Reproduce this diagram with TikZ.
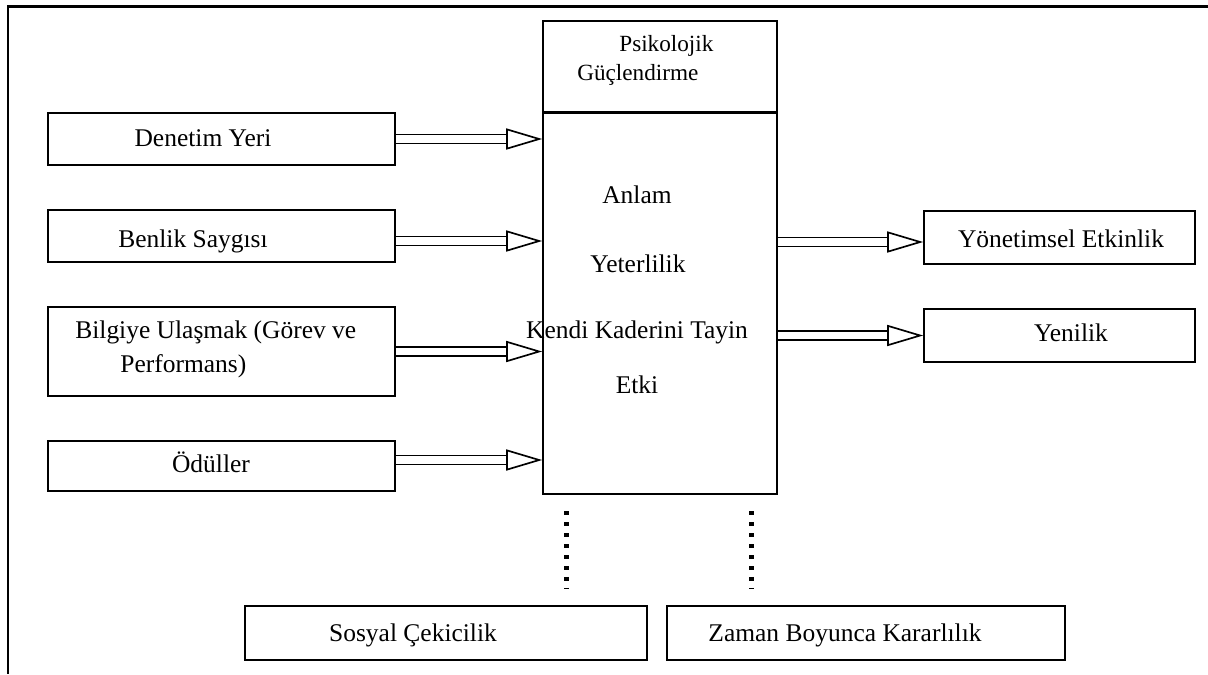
\documentclass[tikz,border=0pt]{standalone}
\usepackage{fontspec}
\setmainfont{Liberation Serif}
\usetikzlibrary{arrows.meta}

\begin{document}
\begin{tikzpicture}[x=0.02cm,y=-0.02cm,
    kutu/.style={draw,line width=0.95pt,inner sep=0pt},
    yazi/.style={font=\fontsize{14.5}{17}\selectfont,inner sep=0pt,anchor=base},
    okcift/.style={double,double distance=4pt,line width=0.95pt,-{Triangle[open,length=0.72cm,width=0.42cm]}},
    nokta/.style={line width=0.1cm,dash pattern=on 0.08cm off 0.14cm}]
  \useasboundingbox (0,0) rectangle (1208,674);

  % cerceve
  \draw[line width=0.06cm] (7,6) -- (1208,6);
  \draw[line width=0.045cm] (8,6) -- (8,674);

  % sol kutular
  \node[kutu,minimum width=6.94cm,minimum height=1.04cm] (denetim) at (221.5,139) {};
  \node[kutu,minimum width=6.94cm,minimum height=1.04cm] (benlik) at (221.5,236) {};
  \node[kutu,minimum width=6.94cm,minimum height=1.78cm] (bilgi) at (221.5,351.5) {};
  \node[kutu,minimum width=6.94cm,minimum height=1.00cm] (odul) at (221.5,466) {};

  % orta kutu
  \node[kutu,minimum width=4.68cm,minimum height=1.84cm] (ust) at (660,67) {};
  \node[kutu,minimum width=4.68cm,minimum height=7.62cm] (merkez) at (660,303.5) {};
  \draw[line width=0.055cm] (merkez.north west) -- (merkez.north east);

  % sag kutular
  \node[kutu,minimum width=5.42cm,minimum height=1.06cm] (yonetim) at (1059.5,237.5) {};
  \node[kutu,minimum width=5.42cm,minimum height=1.06cm] (yenilik) at (1059.5,335.5) {};

  % alt kutular
  \node[kutu,minimum width=8.04cm,minimum height=1.08cm] (sosyal) at (446,633) {};
  \node[kutu,minimum width=7.96cm,minimum height=1.08cm] (zaman) at (866,633) {};

  % yazilar
  \node[yazi,anchor=base west,font=\fontsize{13.2}{16}\selectfont] (psiT) at (619,51) {Psikolojik};
  \node[yazi,anchor=base west,font=\fontsize{13.2}{16}\selectfont] (gucT) at (577,80) {Güçlendirme};
  \node[yazi] (denetimT) at (203,146) {Denetim Yeri};
  \node[yazi] (benlikT) at (193,247) {Benlik Saygısı};
  \node[yazi,anchor=base west] (bilgiT) at (75,338) {Bilgiye Ulaşmak (Görev ve};
  \node[yazi,anchor=base west] (perfT) at (120,372) {Performans)};
  \node[yazi] (odulT) at (211,472) {Ödüller};
  \node[yazi] (anlamT) at (637,203) {Anlam};
  \node[yazi] (yeterT) at (638,272) {Yeterlilik};
  \node[yazi] (kendiT) at (637,338) {Kendi Kaderini Tayin};
  \node[yazi] (etkiT) at (637,393) {Etki};
  \node[yazi] (yonetimT) at (1061,247) {Yönetimsel Etkinlik};
  \node[yazi] (yenilikT) at (1071,341) {Yenilik};
  \node[yazi] (sosyalT) at (413,641) {Sosyal Çekicilik};
  \node[yazi] (zamanT) at (845,641) {Zaman Boyunca Kararlılık};

  % oklar
  \draw[okcift] (denetim.east) -- (denetim.east -| merkez.west);
  \draw[okcift] ([yshift=-0.1cm]benlik.east) -- ([yshift=-0.1cm]benlik.east -| merkez.west);
  \draw[okcift] (bilgi.east) -- (bilgi.east -| merkez.west);
  \draw[okcift] ([yshift=0.12cm]odul.east) -- ([yshift=0.12cm]odul.east -| merkez.west);
  \draw[okcift] ([yshift=-0.09cm]merkez.east |- yonetim.west) -- ([yshift=-0.09cm]yonetim.west);
  \draw[okcift] (merkez.east |- yenilik.west) -- (yenilik.west);

  % noktali cizgiler
  \coordinate (n1) at (566,511);
  \coordinate (n2) at (751,511);
  \draw[nokta] (n1) -- ++(0,78);
  \draw[nokta] (n2) -- ++(0,78);
\end{tikzpicture}
\end{document}
